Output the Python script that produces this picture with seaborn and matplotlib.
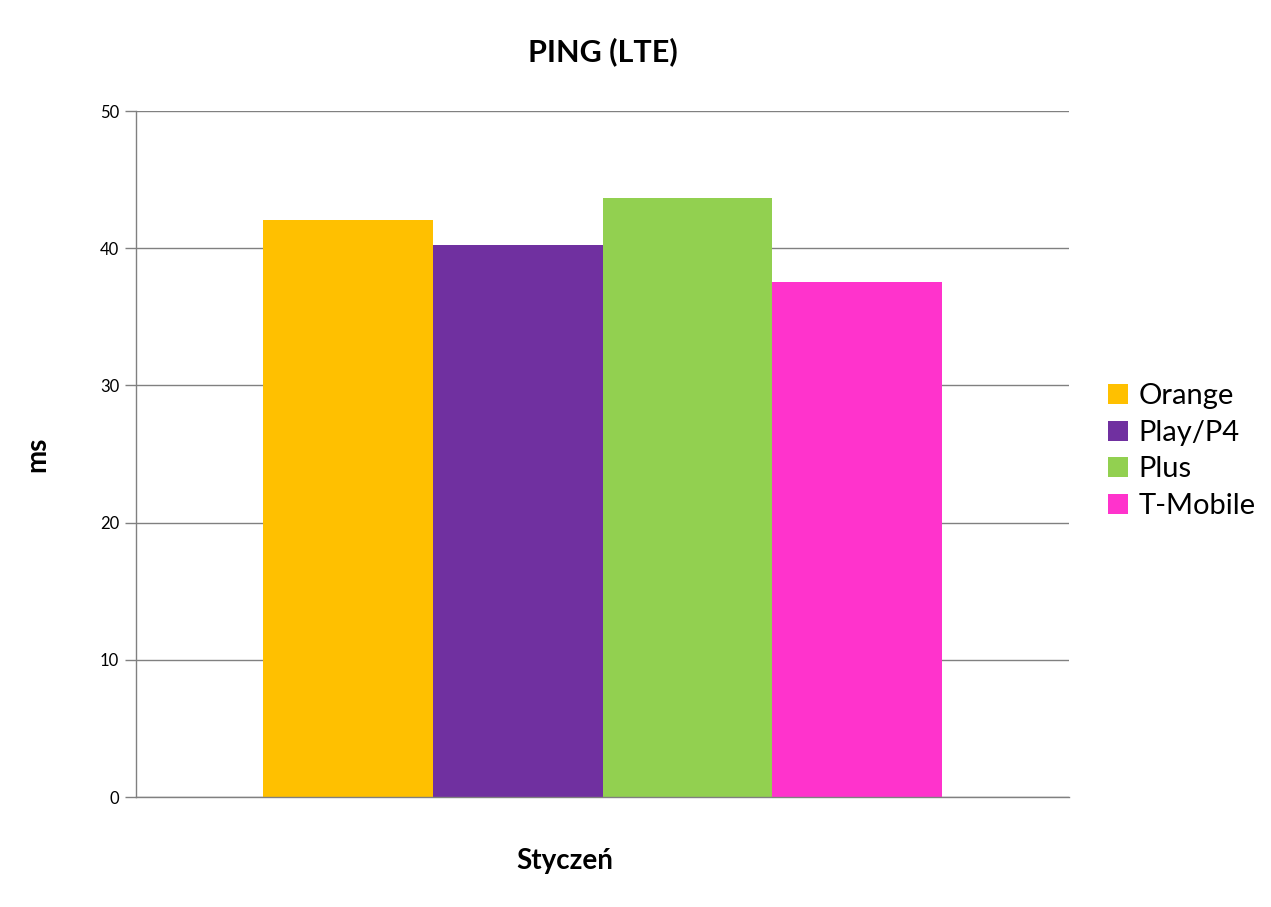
import matplotlib
matplotlib.use("Agg")
import matplotlib.pyplot as plt
import seaborn as sns
import pandas as pd
from matplotlib.patches import Patch

operators = ["Orange", "Play/P4", "Plus", "T-Mobile"]
ping_ms = [42.06, 40.2, 43.67, 37.52]
month = ["Styczeń"] * 4
colors = ["#FFC000", "#7030A0", "#92D050", "#FF33CC"]
yticks = [0, 10, 20, 30, 40, 50]

df = pd.DataFrame({"month": month, "operator": operators, "ping": ping_ms})

sns.set_style("white")
plt.rcParams["font.family"] = ["Lato", "DejaVu Sans"]
plt.rcParams["text.color"] = "black"
plt.rcParams["axes.labelcolor"] = "black"
plt.rcParams["ytick.color"] = "black"

fig = plt.figure(figsize=(12.71, 9.07), dpi=100)
ax = fig.add_axes([136 / 1271, 1 - 797 / 907, (1069 - 136) / 1271, (797 - 111) / 907])

sns.barplot(data=df, x="month", y="ping", hue="operator", palette=colors,
            width=0.727, saturation=1, ax=ax, legend=False, linewidth=0, errorbar=None)

ax.set_xlim(-0.5, 0.5)
ax.set_ylim(0, 50)
ax.set_yticks(yticks)
ax.set_yticklabels([str(t) for t in yticks], fontsize=12, color="black")
ax.set_xticks([])
ax.grid(axis="y", color="#808080", linewidth=1.0)
ax.set_axisbelow(True)
for s in ["top", "right"]:
    ax.spines[s].set_visible(False)
for s in ["left", "bottom"]:
    ax.spines[s].set_color("#808080")
    ax.spines[s].set_linewidth(1.0)
ax.tick_params(axis="y", length=8, color="#808080", width=1.0, pad=4, left=True, labelcolor="black")

ax.set_ylabel("ms", fontsize=20, fontweight="bold", color="black")
ax.yaxis.set_label_coords((50 - 136) / (1069 - 136), 0.5)
ax.set_xlabel("Styczeń", fontsize=20, fontweight="bold", color="black")
ax.xaxis.set_label_coords((565 - 136) / (1069 - 136), -(861 - 797) / (797 - 111))
ax.xaxis.label.set_va("center")
ax.set_title("PING (LTE)", fontsize=22, fontweight="bold", color="black", pad=0, y=(797 - 52) / (797 - 111), va="center")

handles = [Patch(facecolor=c, edgecolor="none") for c in colors]
fig.legend(handles, operators, loc="center left", bbox_to_anchor=(1088 / 1271, 1 - 451 / 907),
           frameon=False, fontsize=21, handlelength=0.68, handleheight=0.68,
           handletextpad=0.35, labelspacing=0.36, borderpad=0.2)

fig.savefig("out.png", dpi=100)
